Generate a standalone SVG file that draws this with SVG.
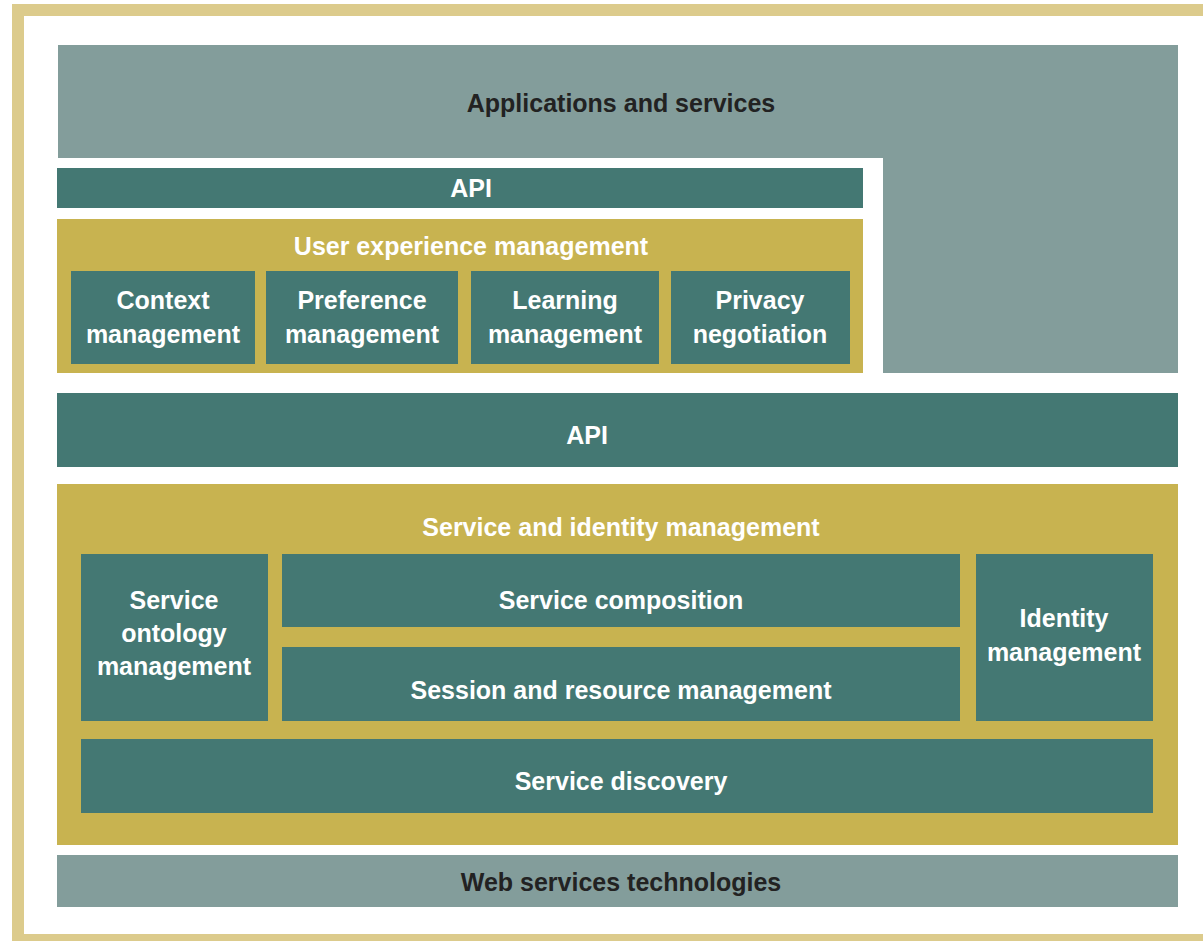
<svg xmlns="http://www.w3.org/2000/svg" width="1203" height="941" viewBox="0 0 1203 941">
<style>
.light{fill:#839d9b}
.dark{fill:#447873}
.gold{fill:#c8b350}
text{font-family:"Liberation Sans Narrow","Liberation Sans",Arial,sans-serif;font-weight:bold;font-size:25px;text-anchor:middle}
.w{fill:#ffffff}
.k{fill:#222222}
</style>
<rect x="0" y="0" width="1203" height="941" fill="#ffffff"/>
<rect x="18" y="10" width="1200" height="930" fill="none" stroke="#dccb8c" stroke-width="12"/>
<g id="applications">
<path class="light" d="M58 45H1178V373H883V158H58Z"/>
<text class="k" x="621" y="112">Applications and services</text>
</g>
<g id="api-top">
<rect class="dark" x="57" y="168" width="806" height="40"/>
<text class="w" x="471" y="197">API</text>
</g>
<g id="ux">
<rect class="gold" x="57" y="219" width="806" height="154"/>
<text class="w" x="471" y="255">User experience management</text>
</g>
<g id="context">
<rect class="dark" x="71" y="271" width="184" height="93"/>
<text class="w" x="163" y="309">Context</text>
<text class="w" x="163" y="343">management</text>
</g>
<g id="preference">
<rect class="dark" x="266" y="271" width="192" height="93"/>
<text class="w" x="362" y="309">Preference</text>
<text class="w" x="362" y="343">management</text>
</g>
<g id="learning">
<rect class="dark" x="471" y="271" width="188" height="93"/>
<text class="w" x="565" y="309">Learning</text>
<text class="w" x="565" y="343">management</text>
</g>
<g id="privacy">
<rect class="dark" x="671" y="271" width="179" height="93"/>
<text class="w" x="760" y="309">Privacy</text>
<text class="w" x="760" y="343">negotiation</text>
</g>
<g id="api-mid">
<rect class="dark" x="57" y="393" width="1121" height="74"/>
<text class="w" x="587" y="444">API</text>
</g>
<g id="sim">
<rect class="gold" x="57" y="484" width="1121" height="361"/>
<text class="w" x="621" y="536">Service and identity management</text>
</g>
<g id="ontology">
<rect class="dark" x="81" y="554" width="187" height="167"/>
<text class="w" x="174" y="609">Service</text>
<text class="w" x="174" y="642">ontology</text>
<text class="w" x="174" y="675">management</text>
</g>
<g id="composition">
<rect class="dark" x="282" y="554" width="678" height="73"/>
<text class="w" x="621" y="609">Service composition</text>
</g>
<g id="session">
<rect class="dark" x="282" y="647" width="678" height="74"/>
<text class="w" x="621" y="699">Session and resource management</text>
</g>
<g id="identity">
<rect class="dark" x="976" y="554" width="177" height="167"/>
<text class="w" x="1064" y="627">Identity</text>
<text class="w" x="1064" y="661">management</text>
</g>
<g id="discovery">
<rect class="dark" x="81" y="739" width="1072" height="74"/>
<text class="w" x="621" y="790">Service discovery</text>
</g>
<g id="web">
<rect class="light" x="57" y="855" width="1121" height="52"/>
<text class="k" x="621" y="891">Web services technologies</text>
</g>
<g id="connectors"/>
</svg>
